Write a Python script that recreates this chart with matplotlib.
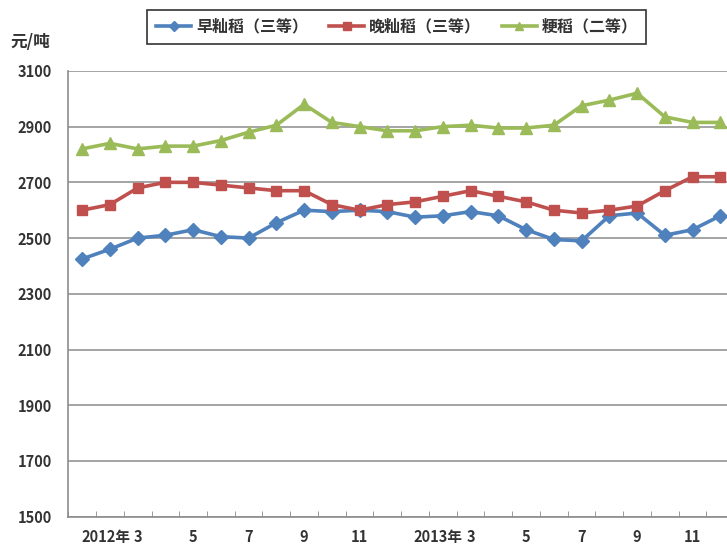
import matplotlib
matplotlib.use("Agg")
import matplotlib.pyplot as plt
import numpy as np

plt.rcParams['font.family'] = ['Noto Sans CJK SC', 'DejaVu Sans']

# 月份 2012-01 ... 2013-12
months = list(range(1, 13)) * 2
years = ["2012年", "2013年"]

early = [2425, 2460, 2500, 2510, 2530, 2505, 2500, 2555, 2600, 2595, 2600, 2595,
         2575, 2580, 2595, 2580, 2530, 2495, 2490, 2580, 2590, 2510, 2530, 2580]
late = [2600, 2620, 2680, 2700, 2700, 2690, 2680, 2670, 2670, 2620, 2600, 2620,
        2630, 2650, 2670, 2650, 2630, 2600, 2590, 2600, 2615, 2670, 2720, 2720]
japonica = [2820, 2840, 2820, 2830, 2830, 2850, 2880, 2905, 2980, 2915, 2900, 2885,
            2885, 2900, 2905, 2895, 2895, 2905, 2975, 2995, 3020, 2935, 2915, 2915]

series = [
    ("早籼稻（三等）", early, "#4F81BD", "D", 7),
    ("晚籼稻（三等）", late, "#C0504D", "s", 7.5),
    ("粳稻（二等）", japonica, "#9BBB59", "^", 8),
]

txt_col = "#333333"

fig = plt.figure(figsize=(7.27, 5.47), dpi=100)
ax = fig.add_axes([0.0939, 0.0554, 0.916, 0.815])

x = np.arange(len(months))
for name, vals, col, mk, ms in series:
    ax.plot(x, vals, color=col, lw=2.6, marker=mk, markersize=ms, label=name)

ax.set_xlim(-0.5, len(months) - 0.5)
ax.set_ylim(1500, 3100)
ax.set_yticks(np.arange(1500, 3101, 200))
ax.yaxis.grid(True, color="#8c8c8c", lw=1.1)
ax.set_axisbelow(True)

# 标签只显示奇数月（从3月开始）
lab_pos = [i for i in x if months[i] % 2 == 1 and months[i] != 1]
ax.set_xticks(lab_pos)
ax.set_xticklabels([str(months[i]) for i in lab_pos])
ax.set_xticks(np.arange(-0.5, len(months)), minor=True)
ax.tick_params(axis="x", which="major", length=0, pad=9, labelsize=10.5)
ax.tick_params(axis="x", which="minor", direction="in", length=4, color="#8c8c8c")
ax.tick_params(axis="y", length=0, pad=12, labelsize=10.5)
for lbl in ax.get_xticklabels() + ax.get_yticklabels():
    lbl.set_fontweight("bold")
    lbl.set_color(txt_col)

# 年份放在3月标签左边
for xpos, yr in zip([1.75, 13.7], years):
    ax.text(xpos, -0.046, yr, transform=ax.get_xaxis_transform(), ha="right", va="center",
            fontsize=10.5, fontweight="bold", color=txt_col)

for s in ["top", "right"]:
    ax.spines[s].set_visible(False)
for s in ["left", "bottom"]:
    ax.spines[s].set_color("#8c8c8c")
    ax.spines[s].set_linewidth(1.2)

fig.text(0.014, 0.924, "元/吨", fontsize=12, fontweight="bold", color=txt_col, va="center")

leg = fig.legend(loc="center", bbox_to_anchor=(0.546, 0.951), ncol=3, frameon=True,
                 fancybox=False, edgecolor="black", handlelength=2.2,
                 columnspacing=1.3, handletextpad=0.3, borderpad=0.55, markerscale=0.75,
                 prop={"weight": "bold", "size": 11.5})
leg.get_frame().set_linewidth(1.2)
for t in leg.get_texts():
    t.set_color(txt_col)

fig.savefig("out.png", dpi=100)
